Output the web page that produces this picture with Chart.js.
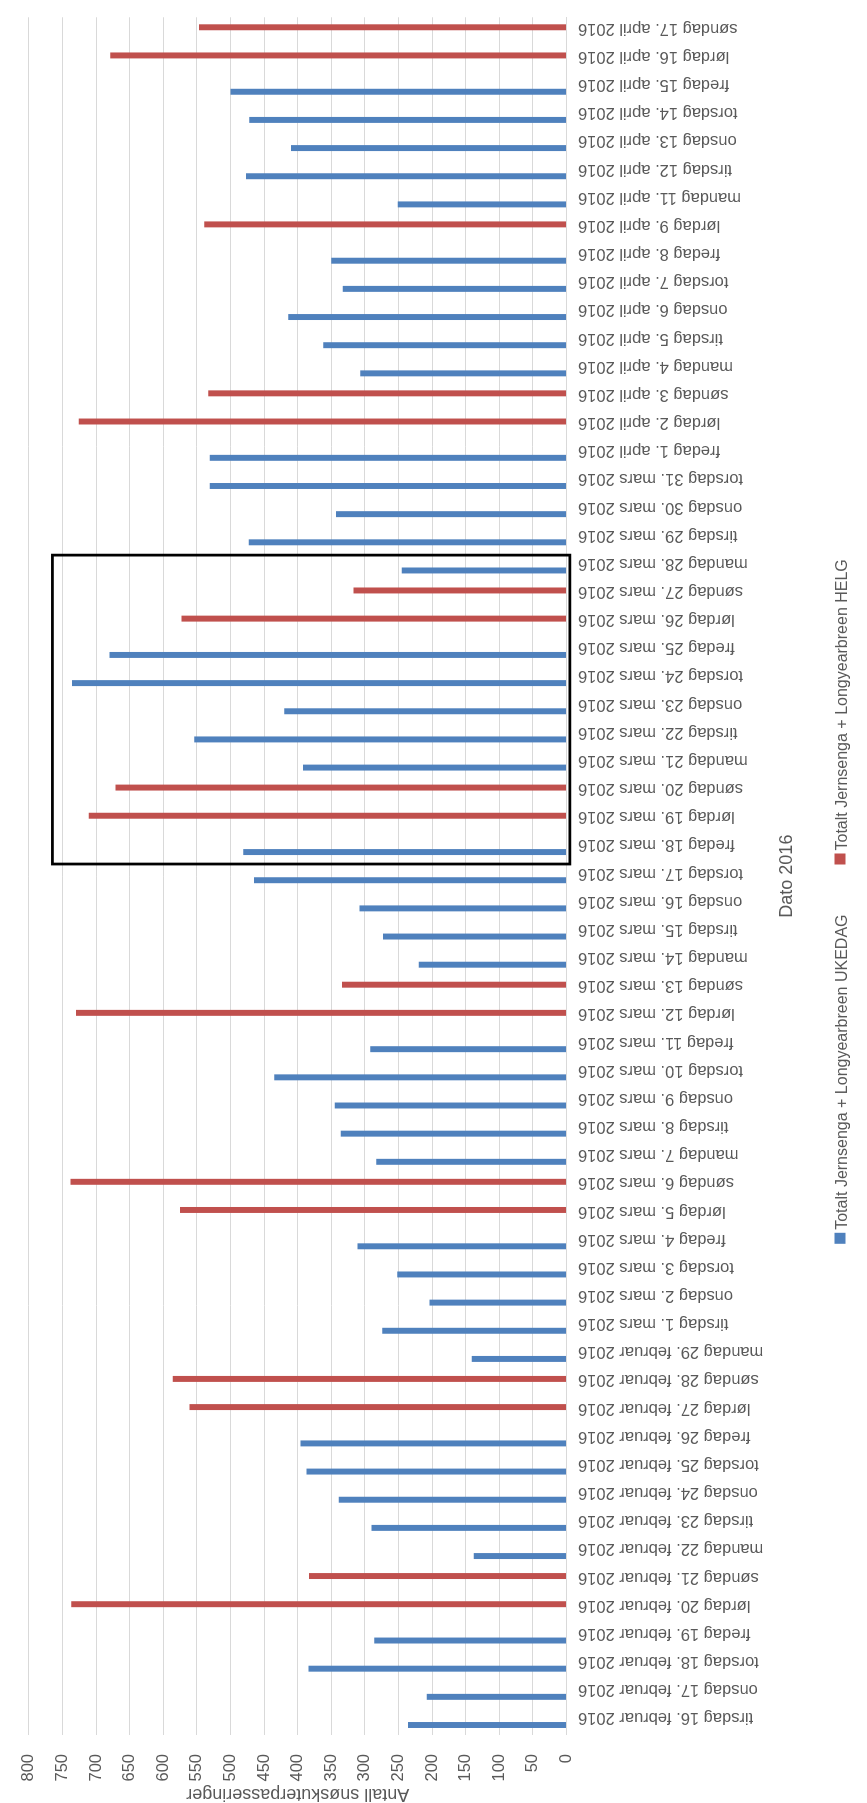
<!DOCTYPE html>
<html lang="no">
<head>
<meta charset="utf-8">
<title>Snøskuterpasseringer 2016</title>
<script src="https://cdn.jsdelivr.net/npm/chart.js@4.4.1/dist/chart.umd.min.js"></script>
<style>
  html, body { margin: 0; padding: 0; background: #fff; overflow: hidden; width: 867px; height: 1803px; }
  /* the chart is laid out landscape and turned a quarter turn counter-clockwise */
  #wrap { position: absolute; left: 0; top: 0; width: 1803px; height: 867px;
          transform-origin: 0 0; transform: translateY(1803px) rotate(-90deg); }
  canvas { display: block; }
</style>
</head>
<body>
<div id="wrap"><canvas id="c" width="1803" height="867"></canvas></div>
<script>
// Dager med registrering
const dates = [
  'tirsdag 16. februar 2016', 'onsdag 17. februar 2016', 'torsdag 18. februar 2016', 'fredag 19. februar 2016',
  'lørdag 20. februar 2016', 'søndag 21. februar 2016', 'mandag 22. februar 2016', 'tirsdag 23. februar 2016',
  'onsdag 24. februar 2016', 'torsdag 25. februar 2016', 'fredag 26. februar 2016', 'lørdag 27. februar 2016',
  'søndag 28. februar 2016', 'mandag 29. februar 2016', 'tirsdag 1. mars 2016', 'onsdag 2. mars 2016',
  'torsdag 3. mars 2016', 'fredag 4. mars 2016', 'lørdag 5. mars 2016', 'søndag 6. mars 2016',
  'mandag 7. mars 2016', 'tirsdag 8. mars 2016', 'onsdag 9. mars 2016', 'torsdag 10. mars 2016',
  'fredag 11. mars 2016', 'lørdag 12. mars 2016', 'søndag 13. mars 2016', 'mandag 14. mars 2016',
  'tirsdag 15. mars 2016', 'onsdag 16. mars 2016', 'torsdag 17. mars 2016', 'fredag 18. mars 2016',
  'lørdag 19. mars 2016', 'søndag 20. mars 2016', 'mandag 21. mars 2016', 'tirsdag 22. mars 2016',
  'onsdag 23. mars 2016', 'torsdag 24. mars 2016', 'fredag 25. mars 2016', 'lørdag 26. mars 2016',
  'søndag 27. mars 2016', 'mandag 28. mars 2016', 'tirsdag 29. mars 2016', 'onsdag 30. mars 2016',
  'torsdag 31. mars 2016', 'fredag 1. april 2016', 'lørdag 2. april 2016', 'søndag 3. april 2016',
  'mandag 4. april 2016', 'tirsdag 5. april 2016', 'onsdag 6. april 2016', 'torsdag 7. april 2016',
  'fredag 8. april 2016', 'lørdag 9. april 2016', 'mandag 11. april 2016', 'tirsdag 12. april 2016',
  'onsdag 13. april 2016', 'torsdag 14. april 2016', 'fredag 15. april 2016', 'lørdag 16. april 2016',
  'søndag 17. april 2016'
];

// Totalt Jernsenga + Longyearbreen, hverdager
const ukedag = [
  236, 208, 384, 286, null, null, 138, 290, 339, 387, 396, null, null, 141, 274, 204,
  252, 311, null, null, 283, 336, 345, 435, 292, null, null, 220, 273, 308, 465, 481,
  null, null, 392, 554, 420, 736, 680, null, null, 245, 473, 343, 531, 531, null, null,
  307, 362, 414, 333, 350, null, 251, 477, 410, 472, 500, null, null
];

// Totalt Jernsenga + Longyearbreen, helg
const helg = [
  null, null, null, null, 737, 383, null, null, null, null, null, 561, 586, null, null, null,
  null, null, 575, 738, null, null, null, null, null, 730, 334, null, null, null, null, null,
  711, 671, null, null, null, null, null, 573, 317, null, null, null, null, null, 726, 533,
  null, null, null, null, null, 539, null, null, null, null, null, 679, 547
];

const seriesNames = [
  'Totalt Jernsenga + Longyearbreen UKEDAG',
  'Totalt Jernsenga + Longyearbreen HELG'
];

const valueTicks = { min: 0, max: 800, step: 50 };

// Påskeuka markert med ramme
const highlight = { first: 'fredag 18. mars 2016', last: 'mandag 28. mars 2016', before: -0.57, after: 0.4, top: 765, bottom: -5 };

const FAMILY = "'Liberation Sans', Arial, sans-serif";
const TEXT = '#595959';
const GRID = '#d9d9d9';

const framePlugin = {
  id: 'easterFrame',
  afterDatasetsDraw(chart) {
    const { ctx, scales: { x, y } } = chart;
    const i0 = dates.indexOf(highlight.first);
    const i1 = dates.indexOf(highlight.last);
    const left = x.getPixelForValue(i0 + highlight.before);
    const right = x.getPixelForValue(i1 + highlight.after);
    const top = y.getPixelForValue(highlight.top);
    const bottom = y.getPixelForValue(highlight.bottom);
    ctx.save();
    ctx.strokeStyle = '#000';
    ctx.lineWidth = 2.75;
    ctx.strokeRect(left, top, right - left, bottom - top);
    ctx.restore();
  }
};

const keyPlugin = {
  id: 'seriesKey',
  afterDraw(chart) {
    const ctx = chart.ctx;
    ctx.save();
    ctx.font = '16px ' + FAMILY;
    const box = 11, gapText = 3, gapItem = 50, yc = 840;
    const sets = chart.data.datasets;
    const widths = sets.map(ds => ctx.measureText(ds.label).width);
    const total = widths.reduce((a, w) => a + box + gapText + w, 0) + gapItem * (sets.length - 1);
    let xPos = chart.width / 2 - total / 2;
    sets.forEach((ds, i) => {
      ctx.fillStyle = ds.backgroundColor;
      ctx.fillRect(xPos, yc - box / 2, box, box);
      ctx.fillStyle = TEXT;
      ctx.textBaseline = 'alphabetic';
      ctx.textAlign = 'left';
      ctx.fillText(ds.label, xPos + box + gapText, yc + 6.5);
      xPos += box + gapText + widths[i] + gapItem;
    });
    ctx.restore();
  }
};

new Chart(document.getElementById('c'), {
  type: 'bar',
  data: {
    labels: dates,
    datasets: [
      { label: seriesNames[0], data: ukedag, backgroundColor: '#4F81BD', categoryPercentage: 0.58, barPercentage: 0.73 },
      { label: seriesNames[1], data: helg, backgroundColor: '#C0504D', categoryPercentage: 0.58, barPercentage: 0.73 }
    ]
  },
  options: {
    responsive: false,
    animation: false,
    layout: { padding: { top: 18.6, right: 7, bottom: 69.5, left: 0 } },
    plugins: { legend: { display: false }, tooltip: { enabled: false } },
    scales: {
      x: {
        grid: { display: false, drawTicks: false },
        border: { display: true, color: GRID, width: 1 },
        ticks: { autoSkip: false, minRotation: 90, maxRotation: 90, padding: 11.5, labelOffset: 3,
                 color: TEXT, font: { family: FAMILY, size: 16.5 } },
        title: { display: true, text: 'Dato 2016', color: TEXT, font: { family: FAMILY, size: 18 }, padding: 0 },
        afterFit(scale) { scale.height = 231; }
      },
      y: {
        min: valueTicks.min,
        max: valueTicks.max,
        grid: { color: GRID, lineWidth: 1, drawTicks: false },
        border: { display: false },
        ticks: { stepSize: valueTicks.step, padding: 19, color: TEXT, font: { family: FAMILY, size: 16.5 } },
        title: { display: true, text: 'Antall snøskuterpasseringer', color: TEXT,
                 font: { family: FAMILY, size: 18 }, padding: { top: -2, bottom: 0 } },
        afterFit(scale) { scale.width = 68; }
      }
    }
  },
  plugins: [framePlugin, keyPlugin]
});
</script>
</body>
</html>
